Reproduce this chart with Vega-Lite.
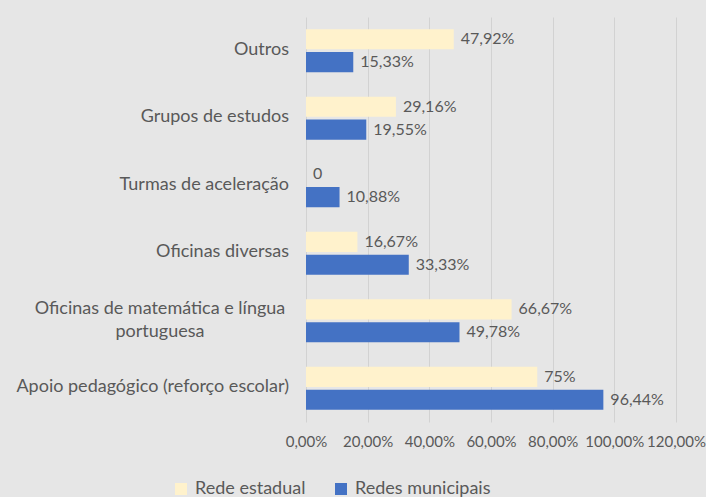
{
  "$schema": "https://vega.github.io/schema/vega-lite/v6.json",
  "autosize": {"type": "none"},
  "width": 370,
  "height": 405,
  "padding": {"left": 306, "top": 17, "right": 30, "bottom": 75},
  "background": "#e6e6e6",
  "data": {
    "values": [
      {"categoria": "Outros", "rede": "Rede estadual", "valor": 47.92, "rotulo": "47,92%"},
      {"categoria": "Outros", "rede": "Redes municipais", "valor": 15.33, "rotulo": "15,33%"},
      {"categoria": "Grupos de estudos", "rede": "Rede estadual", "valor": 29.16, "rotulo": "29,16%"},
      {"categoria": "Grupos de estudos", "rede": "Redes municipais", "valor": 19.55, "rotulo": "19,55%"},
      {"categoria": "Turmas de aceleração", "rede": "Rede estadual", "valor": 0, "rotulo": "0"},
      {"categoria": "Turmas de aceleração", "rede": "Redes municipais", "valor": 10.88, "rotulo": "10,88%"},
      {"categoria": "Oficinas diversas", "rede": "Rede estadual", "valor": 16.67, "rotulo": "16,67%"},
      {"categoria": "Oficinas diversas", "rede": "Redes municipais", "valor": 33.33, "rotulo": "33,33%"},
      {"categoria": "Oficinas de matemática e língua portuguesa", "rede": "Rede estadual", "valor": 66.67, "rotulo": "66,67%"},
      {"categoria": "Oficinas de matemática e língua portuguesa", "rede": "Redes municipais", "valor": 49.78, "rotulo": "49,78%"},
      {"categoria": "Apoio pedagógico (reforço escolar)", "rede": "Rede estadual", "valor": 75, "rotulo": "75%"},
      {"categoria": "Apoio pedagógico (reforço escolar)", "rede": "Redes municipais", "valor": 96.44, "rotulo": "96,44%"}
    ]
  },
  "config": {
    "view": {"stroke": null},
    "font": "Lato"
  },
  "encoding": {
    "y": {
      "field": "categoria",
      "type": "nominal",
      "sort": null,
      "scale": {"paddingInner": 0.363, "paddingOuter": 0.18},
      "axis": null
    }
  },
  "layer": [
    {
      "mark": {"type": "bar"},
      "encoding": {
        "x": {
          "field": "valor",
          "type": "quantitative",
          "scale": {"domain": [0, 120], "nice": false},
          "axis": {
            "title": null,
            "values": [0, 20, 40, 60, 80, 100, 120],
            "labelExpr": "replace(format(datum.value / 100, '.2%'), '.', ',')",
            "labelOverlap": false,
            "labelFlush": false,
            "ticks": false,
            "domain": false,
            "grid": true,
            "gridColor": "#d2d2d2",
            "labelFontSize": 15,
            "labelColor": "#595959",
            "labelPadding": 12,
            "labelFont": "Lato"
          }
        },
        "yOffset": {
          "field": "rede",
          "type": "nominal",
          "sort": ["Rede estadual", "Redes municipais"],
          "scale": {"paddingInner": 0.12}
        },
        "color": {
          "field": "rede",
          "type": "nominal",
          "scale": {"domain": ["Rede estadual", "Redes municipais"], "range": ["#fff2cc", "#4472c4"]},
          "legend": {
            "title": null,
            "orient": "none",
            "direction": "horizontal",
            "legendX": -134,
            "legendY": 463,
            "symbolType": "square",
            "symbolSize": 144,
            "symbolStrokeWidth": 0,
            "labelFontSize": 18,
            "labelColor": "#595959",
            "labelFont": "Lato",
            "columnPadding": 26,
            "labelOffset": 5
          }
        }
      }
    },
    {
      "mark": {"type": "text", "align": "left", "dx": 7, "fontSize": 16, "color": "#595959", "font": "Lato"},
      "encoding": {
        "x": {"field": "valor", "type": "quantitative"},
        "yOffset": {
          "field": "rede",
          "type": "nominal",
          "sort": ["Rede estadual", "Redes municipais"],
          "scale": {"paddingInner": 0.12}
        },
        "text": {"field": "rotulo"}
      }
    },
    {
      "transform": [{"filter": "datum.rede == 'Rede estadual'"}],
      "mark": {
        "type": "text",
        "fontSize": 18,
        "color": "#595959",
        "font": "Lato",
        "baseline": "middle",
        "lineHeight": 23,
        "align": {"expr": "datum.categoria == 'Oficinas de matemática e língua portuguesa' ? 'center' : 'right'"},
        "dx": {"expr": "datum.categoria == 'Oficinas de matemática e língua portuguesa' ? -146 : -17"},
        "dy": {"expr": "datum.categoria == 'Oficinas de matemática e língua portuguesa' ? -12 : -1"},
        "text": {"expr": "datum.categoria == 'Oficinas de matemática e língua portuguesa' ? ['Oficinas de matemática e língua', 'portuguesa'] : datum.categoria"}
      },
      "encoding": {
        "x": {"datum": 0, "type": "quantitative"}
      }
    }
  ]
}
